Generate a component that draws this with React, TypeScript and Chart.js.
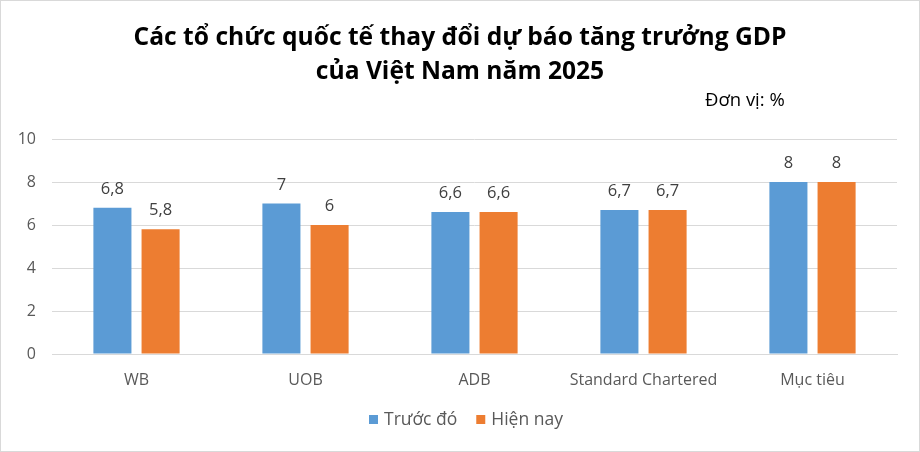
import React, { useEffect, useRef } from "react";
import { Chart, registerables } from "chart.js";

Chart.register(...registerables);

const categories = ["WB", "UOB", "ADB", "Standard Chartered", "Mục tiêu"];
const previous = [6.8, 7, 6.6, 6.7, 8];
const current = [5.8, 6, 6.6, 6.7, 8];
const seriesNames = ["Trước đó", "Hiện nay"];
const titleLines = ["Các tổ chức quốc tế thay đổi dự báo tăng trưởng GDP", "của Việt Nam năm 2025"];
const unitLabel = "Đơn vị: %";

const FONT = "'Open Sans', 'Noto Sans', sans-serif";

const decorPlugin = {
  id: "decor",
  afterDraw(chart: any) {
    const ctx = chart.ctx;
    ctx.save();
    ctx.strokeStyle = "#d9d9d9";
    ctx.lineWidth = 1;
    ctx.strokeRect(0.5, 0.5, chart.width - 1, chart.height - 1);
    ctx.fillStyle = "#000000";
    ctx.font = `bold 24.6px ${FONT}`;
    ctx.textAlign = "center";
    ctx.textBaseline = "middle";
    ctx.fillText(titleLines[0], 460, 38);
    ctx.fillText(titleLines[1], 460, 72);
    ctx.font = `18.5px ${FONT}`;
    ctx.textAlign = "left";
    ctx.fillText(unitLabel, 705, 101);
    // data labels
    ctx.fillStyle = "#404040";
    ctx.font = `16.5px ${FONT}`;
    ctx.textAlign = "center";
    ctx.textBaseline = "alphabetic";
    chart.data.datasets.forEach((ds: any, i: number) => {
      const meta = chart.getDatasetMeta(i);
      meta.data.forEach((bar: any, j: number) => {
        const v = ds.data[j];
        ctx.fillText(String(v).replace(".", ","), bar.x, bar.y - 14);
      });
    });
    // legend
    ctx.font = `17.5px ${FONT}`;
    ctx.textAlign = "left";
    ctx.textBaseline = "middle";
    let x = 369;
    const cy = 420;
    chart.data.datasets.forEach((ds: any) => {
      ctx.fillStyle = ds.backgroundColor;
      ctx.fillRect(x, cy - 5, 9, 9);
      ctx.fillStyle = "#595959";
      ctx.fillText(ds.label, x + 15, cy);
      x += 15 + ctx.measureText(ds.label).width + 19;
    });
    ctx.restore();
  },
};

export default function App() {
  const ref = useRef<HTMLCanvasElement>(null);
  useEffect(() => {
    const chart = new Chart(ref.current!, {
      type: "bar",
      data: {
        labels: categories,
        datasets: [
          { label: seriesNames[0], data: previous, backgroundColor: "#5B9BD5", barPercentage: 0.79, categoryPercentage: 0.57 },
          { label: seriesNames[1], data: current, backgroundColor: "#ED7D31", barPercentage: 0.79, categoryPercentage: 0.57 },
        ],
      },
      options: {
        animation: false,
        responsive: false,
        maintainAspectRatio: false,
        layout: { padding: { left: 0, top: 139, right: 23, bottom: 58 } },
        plugins: {
          title: { display: false },
          tooltip: { enabled: false },
          legend: { display: false },
        },
        scales: {
          x: {
            grid: { display: false, drawTicks: false },
            border: { display: true, color: "#d9d9d9" },
            ticks: { color: "#595959", font: { family: FONT, size: 16 }, padding: 17 },
            afterFit(scale: any) {
              scale.height = 40;
            },
          },
          y: {
            min: 0,
            max: 10,
            ticks: { stepSize: 2, color: "#595959", font: { family: FONT, size: 16 }, padding: 16 },
            grid: { color: "#d9d9d9", drawTicks: false },
            border: { display: false },
            afterFit(scale: any) {
              scale.width = 52;
            },
          },
        },
      },
      plugins: [decorPlugin],
    });
    return () => chart.destroy();
  }, []);
  return (
    <div style={{ position: "fixed", left: 0, top: 0, width: 920, height: 452, background: "#fff" }}>
      <canvas ref={ref} width={920} height={452} style={{ width: 920, height: 452 }} />
    </div>
  );
}
